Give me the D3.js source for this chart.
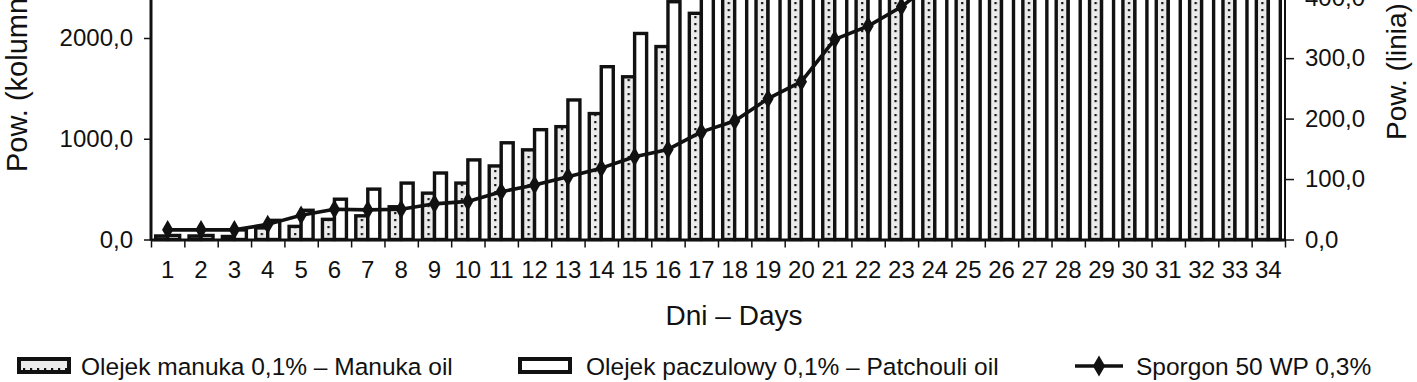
<!DOCTYPE html>
<html>
<head>
<meta charset="utf-8">
<script src="https://cdn.jsdelivr.net/npm/d3@7"></script>
<style>
  html, body { margin: 0; padding: 0; background: #fff; }
  svg { display: block; font-family: "Liberation Sans", Arial, sans-serif; }
</style>
</head>
<body>
<svg id="chart" width="1417" height="382"></svg>
<script>
// ---- data ----
const days = ["1","2","3","4","5","6","7","8","9","10","11","12","13","14","15","16","17",
              "18","19","20","21","22","23","24","25","26","27","28","29","30","31","32","33","34"];
const manuka = [35, 35, 30, 115, 130, 200, 235, 325, 460, 560, 730, 890, 1120, 1250, 1615, 1915, 2245,
                2640, 2910, 3280, 3560, 3950, 4230, 4610, 4880, 5240, 5570, 5850, 6190, 6460, 6820, 7150, 7400, 7760];
const patchouli = [40, 40, 95, 190, 290, 400, 500, 560, 660, 790, 960, 1090, 1385, 1715, 2045, 2360, 2760,
                   3150, 3480, 3860, 4190, 4550, 4900, 5270, 5580, 5960, 6290, 6640, 6980, 7310, 7690, 8020, 8350, 8720];
const sporgon = [16, 16, 16, 25, 40, 50, 49, 50, 59, 63, 79, 90, 104, 118, 137, 149, 178,
                 196, 233, 261, 331, 353, 385, 428, 470, 515, 560, 610, 650, 700, 745, 790, 840, 880];
const leftTicks = [0, 1000, 2000];
const rightTicks = [0, 100, 200, 300, 400];
const seriesNames = ["Olejek manuka 0,1% \u2013 Manuka oil", "Olejek paczulowy 0,1% \u2013 Patchouli oil", "Sporgon 50 WP 0,3%"];
const xTitle = "Dni \u2013 Days";
const yLeftTitle = "Pow. (kolumny)";
const yRightTitle = "Pow. (linia)";

// ---- layout ----
const plotL = 151, plotR = 1285, base = 239.5, plotTop = -2.3;
const svg = d3.select("#chart");
const fmt = d => d3.format(".1f")(d).replace(".", ",");

const x = d3.scaleBand().domain(days).range([plotL, plotR]).paddingInner(0).paddingOuter(0);
const xi = d3.scaleBand().domain(["m", "p"]).range([0, x.bandwidth()]).paddingInner(0).paddingOuter(0.39);
const xb = d3.scaleLinear().domain([0, days.length]).range([plotL, plotR]);
const yL = d3.scaleLinear().domain([0, 2400]).range([base, plotTop]);
const yR = d3.scaleLinear().domain([0, 400]).range([base, plotTop]);

const defs = svg.append("defs");
const pat = defs.append("pattern").attr("id", "dots").attr("patternUnits", "userSpaceOnUse")
  .attr("x", x(days[0]) + xi("m")).attr("y", 0)
  .attr("width", x.step()).attr("height", 7);
pat.append("rect").attr("width", x.step()).attr("height", 7).attr("fill", "#ebebeb");
pat.append("rect").attr("x", xi.bandwidth() / 2 - 1).attr("y", 2).attr("width", 2.2).attr("height", 2.2).attr("fill", "#111");

const lpat = defs.append("pattern").attr("id", "ldots").attr("patternUnits", "userSpaceOnUse")
  .attr("x", 0).attr("y", 0).attr("width", 7).attr("height", 14);
lpat.append("rect").attr("width", 7).attr("height", 14).attr("fill", "#ebebeb");
lpat.append("rect").attr("x", 2).attr("y", 4).attr("width", 2.2).attr("height", 2.2).attr("fill", "#111");

defs.append("clipPath").attr("id", "plotclip").append("rect")
  .attr("x", plotL - 20).attr("y", -10).attr("width", plotR - plotL + 40).attr("height", base + 12);

const plot = svg.append("g").attr("clip-path", "url(#plotclip)");

// bars
const series = [
  { key: "m", values: manuka, fill: "url(#dots)" },
  { key: "p", values: patchouli, fill: "#fff" }
];
series.forEach(s => {
  plot.append("g").selectAll("rect").data(days).join("rect")
    .attr("x", (d) => x(d) + xi(s.key))
    .attr("y", (d, i) => yL(s.values[i]))
    .attr("width", xi.bandwidth())
    .attr("height", (d, i) => yL(0) - yL(s.values[i]))
    .attr("fill", s.fill)
    .attr("stroke", "#111")
    .attr("stroke-width", 3.4);
});

// line
const line = d3.line().x((d, i) => x(days[i]) + x.bandwidth() / 2).y(d => yR(d));
plot.append("path").datum(sporgon).attr("d", line)
  .attr("fill", "none").attr("stroke", "#111").attr("stroke-width", 3.6).attr("stroke-linejoin", "round");
const diamond = d3.symbol().type(d3.symbolDiamond).size(110);
plot.append("g").selectAll("path").data(sporgon).join("path")
  .attr("d", diamond)
  .attr("transform", (d, i) => `translate(${x(days[i]) + x.bandwidth() / 2},${yR(d)})`)
  .attr("fill", "#111");

// axes
const axisStyle = g => {
  g.selectAll("text").attr("font-size", 24).attr("fill", "#111").attr("font-family", "Liberation Sans, Arial, sans-serif");
  g.selectAll("line").attr("stroke", "#111").attr("stroke-width", 1.5);
  g.select(".domain").attr("stroke", "#111").attr("stroke-width", 3);
};

svg.append("g").attr("transform", `translate(${plotL},0)`)
  .call(d3.axisLeft(yL).tickValues(leftTicks).tickFormat(fmt).tickSize(7).tickSizeOuter(0).tickPadding(11))
  .call(axisStyle)
  .call(g => g.select(".domain").attr("d", `M0,${base + 1}V${-10}`));

svg.append("g").attr("transform", `translate(${plotR},0)`)
  .call(d3.axisRight(yR).tickValues(rightTicks).tickFormat(fmt).tickSize(9).tickSizeOuter(0).tickPadding(11))
  .call(axisStyle)
  .call(g => g.select(".domain").attr("d", `M0,${base + 1}V${-10}`).attr("stroke-width", 2));

// x tick marks at band boundaries
svg.append("g").attr("transform", `translate(0,${base})`)
  .call(d3.axisBottom(xb).tickValues(d3.range(0, days.length + 1)).tickFormat("").tickSize(8).tickSizeOuter(0))
  .call(axisStyle);

// x labels
svg.append("g").attr("transform", `translate(0,${base})`)
  .call(d3.axisBottom(x).tickSize(0).tickPadding(21))
  .call(axisStyle)
  .call(g => g.select(".domain").remove());

// titles
svg.append("text").attr("x", 734).attr("y", 325).attr("text-anchor", "middle")
  .attr("font-size", 28).attr("fill", "#111").text(xTitle);
svg.append("text").attr("transform", "translate(27,172) rotate(-90)").attr("text-anchor", "start")
  .attr("font-size", 29).attr("fill", "#111").text(yLeftTitle);
svg.append("text").attr("transform", "translate(1406,140) rotate(-90)").attr("text-anchor", "start")
  .attr("font-size", 28).attr("fill", "#111").text(yRightTitle);

// legend
const ly = 366;
const leg = svg.append("g");
leg.append("rect").attr("x", 19).attr("y", ly - 7).attr("width", 50).attr("height", 13)
  .attr("fill", "url(#ldots)").attr("stroke", "#111").attr("stroke-width", 4);
leg.append("text").attr("x", 81).attr("y", ly + 9).attr("font-size", 24.5).attr("fill", "#111").text(seriesNames[0]);
leg.append("rect").attr("x", 520).attr("y", ly - 7).attr("width", 50).attr("height", 13)
  .attr("fill", "#fff").attr("stroke", "#111").attr("stroke-width", 4);
leg.append("text").attr("x", 586).attr("y", ly + 9).attr("font-size", 24.5).attr("fill", "#111").text(seriesNames[1]);
leg.append("line").attr("x1", 1075).attr("x2", 1123).attr("y1", ly).attr("y2", ly)
  .attr("stroke", "#111").attr("stroke-width", 3.6);
leg.append("path").attr("d", d3.symbol().type(d3.symbolDiamond).size(130))
  .attr("transform", `translate(1099,${ly})`).attr("fill", "#111");
leg.append("text").attr("x", 1136).attr("y", ly + 9).attr("font-size", 24.5).attr("fill", "#111").text(seriesNames[2]);
</script>
</body>
</html>
